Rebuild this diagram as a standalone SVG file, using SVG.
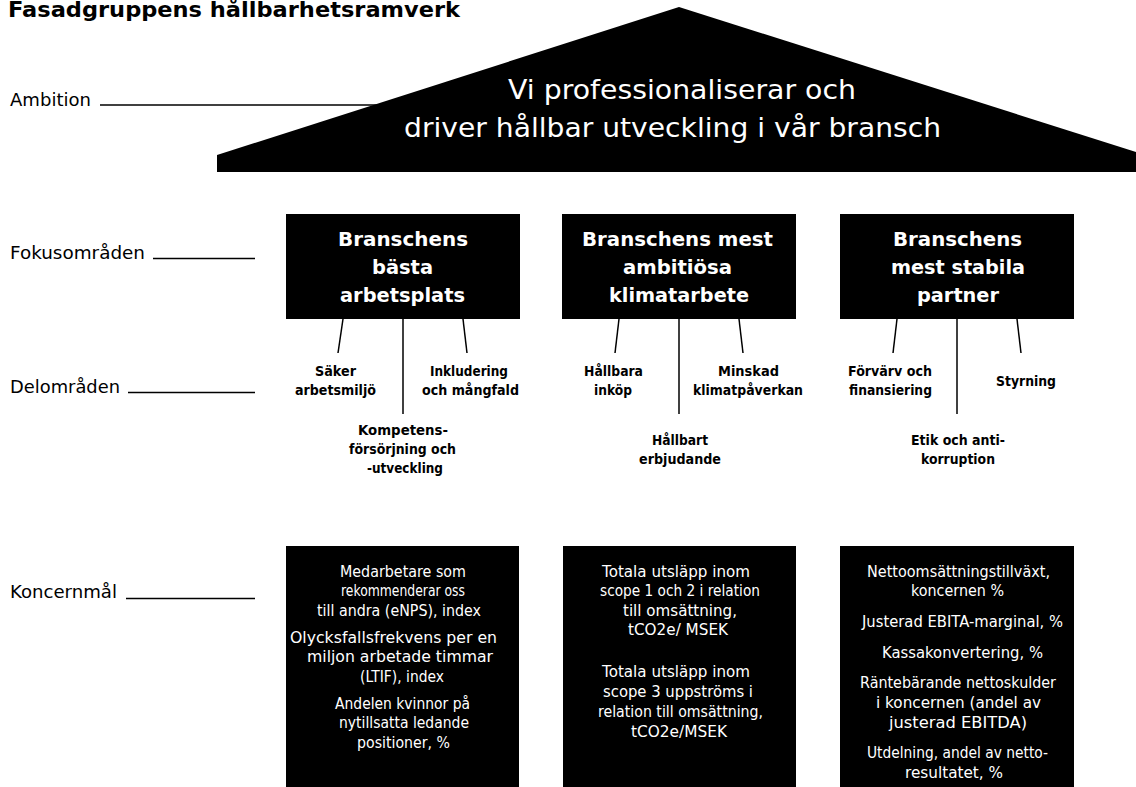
<svg xmlns="http://www.w3.org/2000/svg" width="1136" height="787" viewBox="0 0 1136 787">
<style>
text{font-family:"DejaVu Sans","Liberation Sans",Arial,sans-serif}
.title{font-size:21px;font-weight:bold;fill:#000}
.lbl{font-size:17px;fill:#000}
.roof{font-size:27px;fill:#fff}
.hdr{font-size:20px;font-weight:bold;fill:#fff}
.sub{font-size:14px;font-weight:bold;fill:#000}
.goal{font-size:15px;fill:#fff}
.box{fill:#000}
.ln{stroke:#000;stroke-width:1.5;fill:none}
</style>
<rect width="1136" height="787" fill="#fff"/>
<text class="title" x="8" y="17" textLength="452" lengthAdjust="spacingAndGlyphs">Fasadgruppens hållbarhetsramverk</text>

<g id="connectors">
<line class="ln" x1="100" y1="105" x2="380" y2="105"/>
<line class="ln" x1="153" y1="258.5" x2="255" y2="258.5"/>
<line class="ln" x1="128" y1="392.5" x2="255" y2="392.5"/>
<line class="ln" x1="126" y1="598.5" x2="255" y2="598.5"/>
<line class="ln" x1="343" y1="319" x2="338" y2="353"/>
<line class="ln" x1="403" y1="319" x2="403" y2="414"/>
<line class="ln" x1="463" y1="319" x2="467" y2="353"/>
<line class="ln" x1="619" y1="319" x2="615" y2="353"/>
<line class="ln" x1="679" y1="319" x2="679" y2="414"/>
<line class="ln" x1="739" y1="319" x2="743" y2="353"/>
<line class="ln" x1="897" y1="319" x2="893" y2="353"/>
<line class="ln" x1="957" y1="319" x2="957" y2="414"/>
<line class="ln" x1="1017" y1="319" x2="1021" y2="353"/>
</g>

<g id="label-ambition"><text class="lbl" x="10" y="106" textLength="81" lengthAdjust="spacingAndGlyphs">Ambition</text></g>
<g id="label-fokus"><text class="lbl" x="10" y="259" textLength="135" lengthAdjust="spacingAndGlyphs">Fokusområden</text></g>
<g id="label-delomraden"><text class="lbl" x="10" y="393" textLength="110" lengthAdjust="spacingAndGlyphs">Delområden</text></g>
<g id="label-koncernmal"><text class="lbl" x="10" y="598" textLength="107" lengthAdjust="spacingAndGlyphs">Koncernmål</text></g>

<g id="ambition">
<polygon class="box" points="217,155 679,7 1136,152 1136,172 217,172"/>
<text class="roof" x="508" y="99" textLength="348" lengthAdjust="spacingAndGlyphs">Vi professionaliserar och</text>
<text class="roof" x="404" y="137" textLength="537" lengthAdjust="spacingAndGlyphs">driver hållbar utveckling i vår bransch</text>
</g>

<g id="focus-1">
<rect class="box" x="286" y="214" width="234" height="105"/>
<text class="hdr" x="338" y="246" textLength="130" lengthAdjust="spacingAndGlyphs">Branschens</text>
<text class="hdr" x="372" y="274" textLength="61" lengthAdjust="spacingAndGlyphs">bästa</text>
<text class="hdr" x="340" y="302" textLength="125" lengthAdjust="spacingAndGlyphs">arbetsplats</text>
</g>
<g id="focus-2">
<rect class="box" x="562" y="214" width="234" height="105"/>
<text class="hdr" x="582" y="246" textLength="191" lengthAdjust="spacingAndGlyphs">Branschens mest</text>
<text class="hdr" x="623" y="274" textLength="109" lengthAdjust="spacingAndGlyphs">ambitiösa</text>
<text class="hdr" x="609" y="302" textLength="140" lengthAdjust="spacingAndGlyphs">klimatarbete</text>
</g>
<g id="focus-3">
<rect class="box" x="840" y="214" width="234" height="105"/>
<text class="hdr" x="893" y="246" textLength="129" lengthAdjust="spacingAndGlyphs">Branschens</text>
<text class="hdr" x="891" y="274" textLength="134" lengthAdjust="spacingAndGlyphs">mest stabila</text>
<text class="hdr" x="917" y="302" textLength="82" lengthAdjust="spacingAndGlyphs">partner</text>
</g>

<g id="sub-saker">
<text class="sub" x="315" y="376" textLength="41" lengthAdjust="spacingAndGlyphs">Säker</text>
<text class="sub" x="295" y="395" textLength="81" lengthAdjust="spacingAndGlyphs">arbetsmiljö</text>
</g>
<g id="sub-inkludering">
<text class="sub" x="430" y="376" textLength="78" lengthAdjust="spacingAndGlyphs">Inkludering</text>
<text class="sub" x="422" y="395" textLength="97" lengthAdjust="spacingAndGlyphs">och mångfald</text>
</g>
<g id="sub-kompetens">
<text class="sub" x="358" y="435" textLength="90" lengthAdjust="spacingAndGlyphs">Kompetens-</text>
<text class="sub" x="349" y="454" textLength="107" lengthAdjust="spacingAndGlyphs">försörjning och</text>
<text class="sub" x="367" y="473" textLength="76" lengthAdjust="spacingAndGlyphs">-utveckling</text>
</g>
<g id="sub-inkop">
<text class="sub" x="584" y="376" textLength="59" lengthAdjust="spacingAndGlyphs">Hållbara</text>
<text class="sub" x="594" y="395" textLength="38" lengthAdjust="spacingAndGlyphs">inköp</text>
</g>
<g id="sub-erbjudande">
<text class="sub" x="652" y="445" textLength="56" lengthAdjust="spacingAndGlyphs">Hållbart</text>
<text class="sub" x="639" y="464" textLength="82" lengthAdjust="spacingAndGlyphs">erbjudande</text>
</g>
<g id="sub-klimat">
<text class="sub" x="718" y="376" textLength="61" lengthAdjust="spacingAndGlyphs">Minskad</text>
<text class="sub" x="693" y="395" textLength="110" lengthAdjust="spacingAndGlyphs">klimatpåverkan</text>
</g>
<g id="sub-forvarv">
<text class="sub" x="848" y="376" textLength="84" lengthAdjust="spacingAndGlyphs">Förvärv och</text>
<text class="sub" x="849" y="395" textLength="83" lengthAdjust="spacingAndGlyphs">finansiering</text>
</g>
<g id="sub-styrning">
<text class="sub" x="996" y="386" textLength="60" lengthAdjust="spacingAndGlyphs">Styrning</text>
</g>
<g id="sub-etik">
<text class="sub" x="911" y="445" textLength="94" lengthAdjust="spacingAndGlyphs">Etik och anti-</text>
<text class="sub" x="921" y="464" textLength="74" lengthAdjust="spacingAndGlyphs">korruption</text>
</g>

<g id="goal-1">
<rect class="box" x="286" y="546" width="233" height="241"/>
<text class="goal" x="340" y="577" textLength="126" lengthAdjust="spacingAndGlyphs">Medarbetare som</text>
<text class="goal" x="341" y="596" textLength="124" lengthAdjust="spacingAndGlyphs">rekommenderar oss</text>
<text class="goal" x="317" y="616" textLength="164" lengthAdjust="spacingAndGlyphs">till andra (eNPS), index</text>
<text class="goal" x="290" y="643" textLength="207" lengthAdjust="spacingAndGlyphs">Olycksfallsfrekvens per en</text>
<text class="goal" x="307" y="662" textLength="186" lengthAdjust="spacingAndGlyphs">miljon arbetade timmar</text>
<text class="goal" x="360" y="682" textLength="84" lengthAdjust="spacingAndGlyphs">(LTIF), index</text>
<text class="goal" x="335" y="709" textLength="135" lengthAdjust="spacingAndGlyphs">Andelen kvinnor på</text>
<text class="goal" x="339" y="728" textLength="130" lengthAdjust="spacingAndGlyphs">nytillsatta ledande</text>
<text class="goal" x="357" y="748" textLength="93" lengthAdjust="spacingAndGlyphs">positioner, %</text>
</g>
<g id="goal-2">
<rect class="box" x="563" y="546" width="233" height="241"/>
<text class="goal" x="602" y="577" textLength="148" lengthAdjust="spacingAndGlyphs">Totala utsläpp inom</text>
<text class="goal" x="600" y="596" textLength="160" lengthAdjust="spacingAndGlyphs">scope 1 och 2 i relation</text>
<text class="goal" x="623" y="616" textLength="114" lengthAdjust="spacingAndGlyphs">till omsättning,</text>
<text class="goal" x="628" y="635" textLength="100" lengthAdjust="spacingAndGlyphs">tCO2e/ MSEK</text>
<text class="goal" x="602" y="677" textLength="148" lengthAdjust="spacingAndGlyphs">Totala utsläpp inom</text>
<text class="goal" x="603" y="697" textLength="150" lengthAdjust="spacingAndGlyphs">scope 3 uppströms i</text>
<text class="goal" x="598" y="717" textLength="165" lengthAdjust="spacingAndGlyphs">relation till omsättning,</text>
<text class="goal" x="631" y="737" textLength="96" lengthAdjust="spacingAndGlyphs">tCO2e/MSEK</text>
</g>
<g id="goal-3">
<rect class="box" x="840" y="546" width="234" height="241"/>
<text class="goal" x="867" y="577" textLength="183" lengthAdjust="spacingAndGlyphs">Nettoomsättningstillväxt,</text>
<text class="goal" x="911" y="596" textLength="93" lengthAdjust="spacingAndGlyphs">koncernen %</text>
<text class="goal" x="862" y="627" textLength="201" lengthAdjust="spacingAndGlyphs">Justerad EBITA-marginal, %</text>
<text class="goal" x="882" y="658" textLength="161" lengthAdjust="spacingAndGlyphs">Kassakonvertering, %</text>
<text class="goal" x="860" y="688" textLength="196" lengthAdjust="spacingAndGlyphs">Räntebärande nettoskulder</text>
<text class="goal" x="876" y="708" textLength="165" lengthAdjust="spacingAndGlyphs">i koncernen (andel av</text>
<text class="goal" x="889" y="728" textLength="138" lengthAdjust="spacingAndGlyphs">justerad EBITDA)</text>
<text class="goal" x="867" y="758" textLength="181" lengthAdjust="spacingAndGlyphs">Utdelning, andel av netto-</text>
<text class="goal" x="905" y="778" textLength="98" lengthAdjust="spacingAndGlyphs">resultatet, %</text>
</g>
</svg>
